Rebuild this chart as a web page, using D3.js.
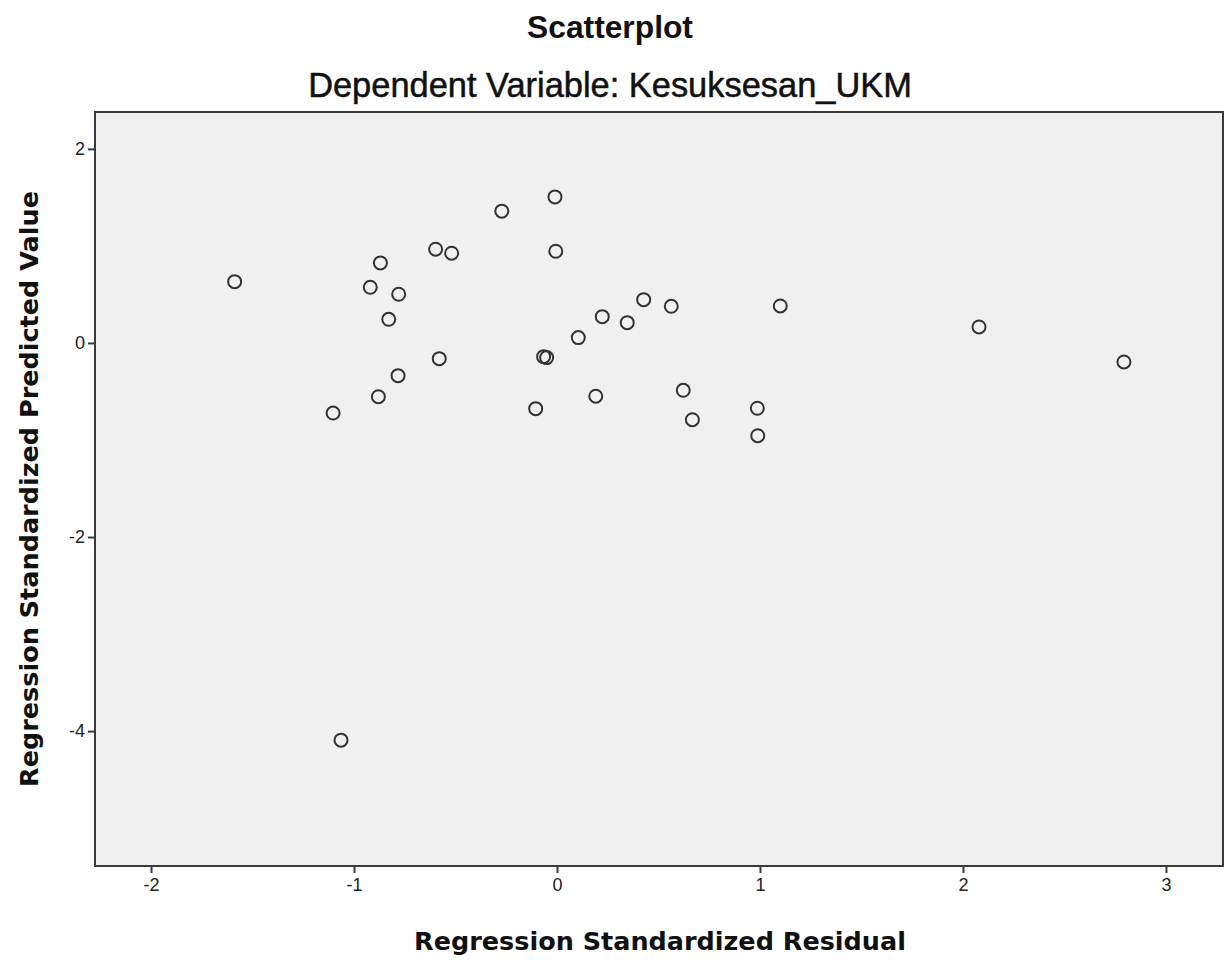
<!DOCTYPE html>
<html><head><meta charset="utf-8">
<script src="https://cdn.jsdelivr.net/npm/d3@7"></script>
<style>body{margin:0;background:#fff}</style>
</head><body>
<svg id="chart" width="1232" height="960"></svg>
<script>
const title = "Scatterplot";
const subtitle = "Dependent Variable: Kesuksesan_UKM";
const xLabel = "Regression Standardized Residual";
const yLabel = "Regression Standardized Predicted Value";
const xTicks = [-2, -1, 0, 1, 2, 3];
const yTicks = [2, 0, -2, -4];
const residual = [-1.588, -0.870, -0.920, -0.780, -0.829, -0.598, -0.519, -0.580, -0.783, -0.880,
  -0.272, -0.010, -0.006, 0.105, 0.223, 0.346, 0.427, 0.563, -0.066, -0.051, 0.191, -0.105, 0.622, 0.667,
  1.100, 0.987, 0.989, -1.103, -1.064, 2.079, 2.793];
const predicted = [0.632, 0.825, 0.574, 0.502, 0.244, 0.966, 0.925, -0.162, -0.337, -0.554,
  1.358, 1.505, 0.945, 0.055, 0.271, 0.209, 0.446, 0.378, -0.141, -0.151, -0.549, -0.677, -0.488, -0.791,
  0.381, -0.673, -0.956, -0.722, -4.093, 0.165, -0.196];

const svg = d3.select("#chart");
const L = 95, R = 1223, T = 112, B = 866;
const x = d3.scaleLinear().domain([-2.276, 3.281]).range([L, R]);
const y = d3.scaleLinear().domain([-5.39, 2.38]).range([B, T]);

svg.append("rect").attr("x", L).attr("y", T).attr("width", R - L).attr("height", B - T)
  .attr("fill", "#f0f0f0").attr("stroke", "#3a3a3a").attr("stroke-width", 2);

const fmt = d => d < 0 ? "-" + Math.abs(d) : String(d);
const ax = svg.append("g").attr("transform", `translate(0,${B})`)
  .call(d3.axisBottom(x).tickValues(xTicks).tickSize(7).tickPadding(5).tickFormat(fmt));
const ay = svg.append("g").attr("transform", `translate(${L},0)`)
  .call(d3.axisLeft(y).tickValues(yTicks).tickSize(7).tickPadding(3).tickFormat(fmt));
[ax, ay].forEach(g => {
  g.attr("font-size", 18).attr("font-family", "Liberation Sans, Arial, sans-serif");
  g.select(".domain").remove();
  g.selectAll(".tick line").attr("stroke", "#3a3a3a").attr("stroke-width", 2);
  g.selectAll(".tick text").style("font-size", "18px").style("fill", "#222");
});

svg.append("g").selectAll("circle").data(residual.map((r, i) => [r, predicted[i]]))
  .join("circle")
  .attr("cx", d => x(d[0])).attr("cy", d => y(d[1])).attr("r", 6.5)
  .attr("fill", "none").attr("stroke", "#333").attr("stroke-width", 2);

function fitText(sel, w) {
  const cur = sel.node().getComputedTextLength();
  const fs = parseFloat(sel.attr("font-size"));
  sel.attr("font-size", fs * w / cur);
}

const t1 = svg.append("text").attr("x", 610).attr("y", 38).attr("text-anchor", "middle")
  .attr("font-family", "Liberation Sans, Arial, sans-serif").attr("font-weight", "bold")
  .attr("font-size", 22).attr("fill", "#111").text(title);
fitText(t1, 166);
const t2 = svg.append("text").attr("x", 610).attr("y", 97).attr("text-anchor", "middle")
  .attr("font-family", "Liberation Sans, Arial, sans-serif")
  .attr("font-size", 25).attr("fill", "#111").attr("stroke", "#111").attr("stroke-width", 0.5)
  .text(subtitle);
fitText(t2, 604);
const xl = svg.append("text").attr("x", 660).attr("y", 950).attr("text-anchor", "middle")
  .attr("font-family", "DejaVu Sans, sans-serif").attr("font-weight", "bold")
  .attr("font-size", 22).attr("fill", "#111").text(xLabel);
fitText(xl, 492);
const yl = svg.append("text").attr("transform", "translate(38,489) rotate(-90)").attr("text-anchor", "middle")
  .attr("font-family", "DejaVu Sans, sans-serif").attr("font-weight", "bold")
  .attr("font-size", 22).attr("fill", "#111").text(yLabel);
fitText(yl, 596);
</script>
</body></html>
